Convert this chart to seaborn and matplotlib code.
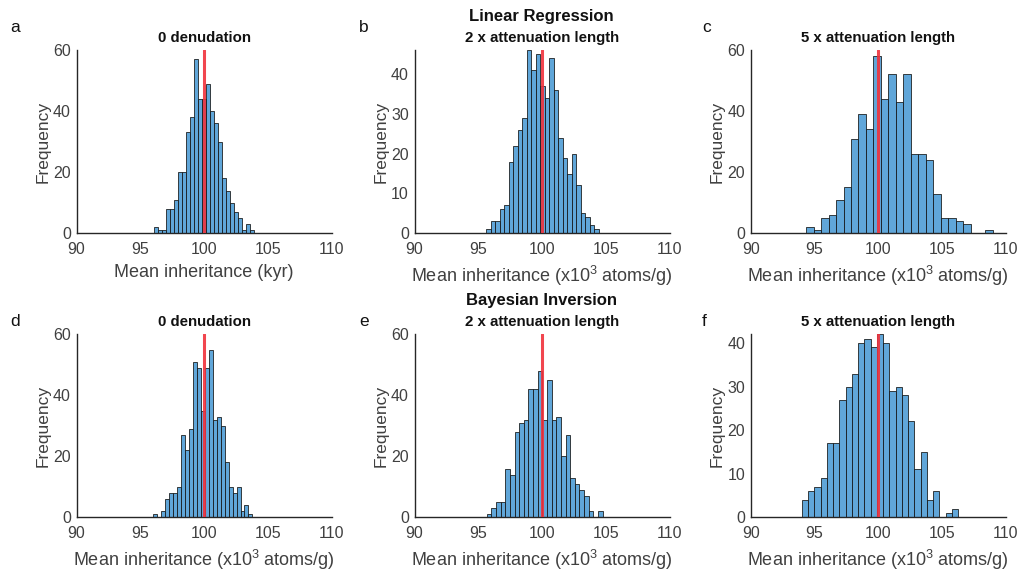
import numpy as np
import pandas as pd
import matplotlib
matplotlib.use("Agg")
import matplotlib.pyplot as plt
import seaborn as sns

# ---------------- data ----------------
# panel a: Linear Regression, 0 denudation
a_start, a_width = 96.05, 0.316
a_counts = [2, 1, 1, 8, 8, 11, 20, 20, 33, 38, 57, 44, 44, 49, 40, 36, 30, 18, 14, 10, 7, 5, 1, 3, 1]
# panel b: Linear Regression, 2 x attenuation length
b_start, b_width = 95.64, 0.353
b_counts = [1, 3, 3, 6, 7, 18, 22, 26, 29, 46, 41, 45, 37, 34, 44, 36, 24, 19, 15, 20, 12, 5, 4, 2, 1]
# panel c: Linear Regression, 5 x attenuation length
c_start, c_width = 94.35, 0.586
c_counts = [2, 1, 5, 6, 11, 15, 31, 39, 34, 58, 44, 52, 43, 52, 26, 26, 24, 13, 5, 5, 4, 3, 0, 0, 1]
# panel d: Bayesian Inversion, 0 denudation
d_start, d_width = 96.0, 0.312
d_counts = [1, 0, 2, 6, 8, 8, 10, 27, 22, 29, 51, 49, 35, 49, 55, 32, 33, 30, 18, 10, 8, 10, 2, 4, 1]
# panel e: Bayesian Inversion, 2 x attenuation length
e_start, e_width = 95.66, 0.364
e_counts = [1, 3, 5, 5, 16, 14, 28, 31, 32, 42, 42, 48, 32, 45, 32, 33, 20, 27, 13, 11, 9, 7, 2, 0, 2]
# panel f: Bayesian Inversion, 5 x attenuation length
f_start, f_width = 94.01, 0.49
f_counts = [4, 6, 7, 9, 17, 17, 27, 30, 33, 40, 41, 39, 42, 40, 29, 30, 28, 22, 11, 15, 4, 6, 0, 1, 2]

panel_letters = ["a", "b", "c", "d", "e", "f"]
panel_titles = ["0 denudation", "2 x attenuation length", "5 x attenuation length",
                "0 denudation", "2 x attenuation length", "5 x attenuation length"]
row_titles = ["Linear Regression", "Bayesian Inversion"]
x_labels = ["Mean inheritance (kyr)"] + ["Mean inheritance (x10$^{3}$ atoms/g)"] * 5
y_label = "Frequency"
true_value = 100
x_ticks = [90, 95, 100, 105, 110]
y_tops = [60, 46, 60, 60, 60, 42]
y_tick_sets = [[0, 20, 40, 60], [0, 10, 20, 30, 40], [0, 20, 40, 60],
               [0, 20, 40, 60], [0, 20, 40, 60], [0, 10, 20, 30, 40]]

panels = [(a_start, a_width, a_counts), (b_start, b_width, b_counts), (c_start, c_width, c_counts),
          (d_start, d_width, d_counts), (e_start, e_width, e_counts), (f_start, f_width, f_counts)]

# ---------------- figure ----------------
sns.set_theme(style="white")
plt.rcParams['font.family'] = ['Liberation Sans', 'DejaVu Sans']
plt.rcParams['mathtext.fontset'] = 'custom'
plt.rcParams['mathtext.rm'] = 'Liberation Sans'

W, H = 1024, 578
fig = plt.figure(figsize=(W / 100, H / 100), dpi=100)

def px_axes(left, top, right, bottom):
    return fig.add_axes([left / W, 1 - bottom / H, (right - left) / W, (bottom - top) / H])

lefts = [76.5, 414.5, 750.7]
ax_w = 255
rows = [(50, 233.3), (334.3, 517.3)]

bar_color = "#60A6D9"
axis_color = "#262626"
tick_color = "#404040"

for i, (start, width, counts) in enumerate(panels):
    r, c = divmod(i, 3)
    top, bottom = rows[r]
    ax = px_axes(lefts[c], top, lefts[c] + ax_w, bottom)
    n = len(counts)
    edges = [float(start + width * k) for k in range(n + 1)]
    centers = [e + width / 2 for e in edges[:-1]]
    df = pd.DataFrame({"value": centers, "count": counts})
    sns.histplot(data=df, x="value", weights="count", bins=edges, ax=ax,
                 color=bar_color, alpha=1.0, edgecolor="#111111", linewidth=0.55)
    ax.axvline(true_value, color="#F0323C", lw=2.2, alpha=0.9, zorder=5)
    ax.set_xlim(90, 110)
    ax.set_ylim(0, y_tops[i])
    ax.set_xticks(x_ticks)
    ax.set_yticks(y_tick_sets[i])
    ax.set_xlabel(x_labels[i], fontsize=13, color=tick_color, labelpad=5)
    ax.set_ylabel(y_label, fontsize=12.5, color=tick_color, labelpad=2)
    for s in ["top", "right"]:
        ax.spines[s].set_visible(False)
    for s in ["left", "bottom"]:
        ax.spines[s].set_color(axis_color)
        ax.spines[s].set_linewidth(1.0)
    ax.tick_params(axis="both", direction="in", length=3, width=0.8, color=axis_color,
                   labelsize=11.5, labelcolor=tick_color)
    ax.tick_params(axis="x", pad=6)
    ax.tick_params(axis="y", pad=4)
    # panel title
    cx = lefts[c] + ax_w / 2
    fig.text(cx / W, 1 - (38 if r == 0 else 322) / H, panel_titles[i], ha="center", va="center",
             fontsize=10.8, fontweight="bold", color="#111111")
    # panel letter
    fig.text([10, 359, 702][c] / W, 1 - (28 if r == 0 else 322) / H, panel_letters[i],
             ha="left", va="center", fontsize=12.5, color="#111111")

fig.text(541.7 / W, 1 - 16 / H, row_titles[0], ha="center", va="center",
         fontsize=12, fontweight="bold", color="#111111")
fig.text(541.7 / W, 1 - 301 / H, row_titles[1], ha="center", va="center",
         fontsize=12, fontweight="bold", color="#111111")

fig.savefig("out.png", dpi=100)
